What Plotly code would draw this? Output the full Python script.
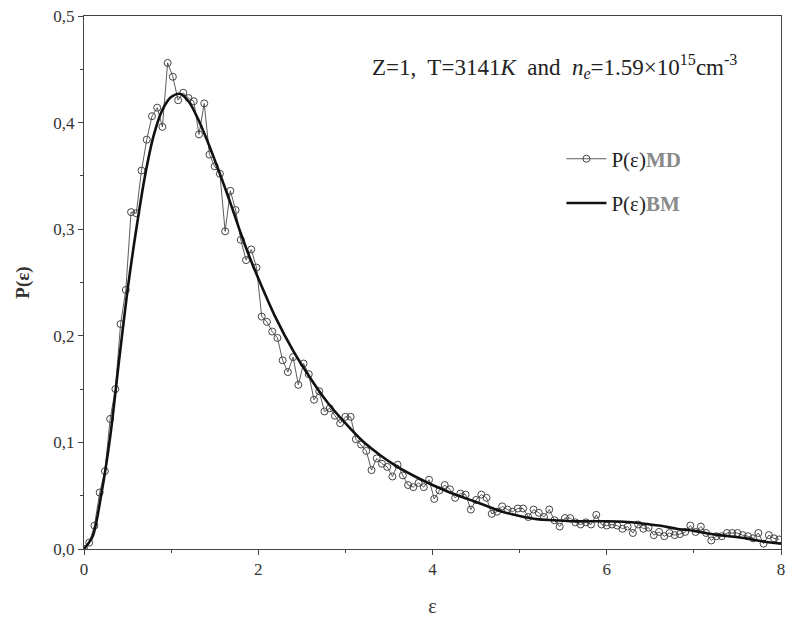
import plotly.graph_objects as go

# MD simulation points (epsilon, P)
eps_md = [0.00, 0.06, 0.12, 0.18, 0.24, 0.30, 0.36, 0.42, 0.48, 0.54,
          0.60, 0.66, 0.72, 0.78, 0.84, 0.90, 0.96, 1.02, 1.08, 1.14,
          1.20, 1.26, 1.32, 1.38, 1.44, 1.50, 1.56, 1.62, 1.68, 1.74,
          1.80, 1.86, 1.92, 1.98, 2.04, 2.10, 2.16, 2.22, 2.28, 2.34,
          2.40, 2.46, 2.52, 2.58, 2.64, 2.70, 2.76, 2.82, 2.88, 2.94,
          3.00, 3.06, 3.12, 3.18, 3.24, 3.30, 3.36, 3.42, 3.48, 3.54,
          3.60, 3.66, 3.72, 3.78, 3.84, 3.90, 3.96, 4.02, 4.08, 4.14,
          4.20, 4.26, 4.32, 4.38, 4.44, 4.50, 4.56, 4.62, 4.68, 4.74,
          4.80, 4.86, 4.92, 4.98, 5.04, 5.10, 5.16, 5.22, 5.28, 5.34,
          5.40, 5.46, 5.52, 5.58, 5.64, 5.70, 5.76, 5.82, 5.88, 5.94,
          6.00, 6.06, 6.12, 6.18, 6.24, 6.30, 6.36, 6.42, 6.48, 6.54,
          6.60, 6.66, 6.72, 6.78, 6.84, 6.90, 6.96, 7.02, 7.08, 7.14,
          7.20, 7.26, 7.32, 7.38, 7.44, 7.50, 7.56, 7.62, 7.68, 7.74,
          7.80, 7.86, 7.92, 7.98]
p_md = [0.000, 0.006, 0.022, 0.053, 0.073, 0.122, 0.150, 0.211, 0.243, 0.316,
        0.315, 0.355, 0.384, 0.406, 0.414, 0.396, 0.456, 0.443, 0.421, 0.428,
        0.423, 0.420, 0.389, 0.418, 0.370, 0.359, 0.352, 0.298, 0.336, 0.318,
        0.290, 0.271, 0.281, 0.264, 0.218, 0.213, 0.204, 0.198, 0.177, 0.166,
        0.180, 0.154, 0.174, 0.164, 0.140, 0.148, 0.129, 0.132, 0.125, 0.118,
        0.124, 0.124, 0.103, 0.098, 0.092, 0.074, 0.085, 0.080, 0.077, 0.068,
        0.079, 0.069, 0.060, 0.058, 0.062, 0.058, 0.065, 0.047, 0.055, 0.060,
        0.056, 0.048, 0.052, 0.051, 0.037, 0.046, 0.051, 0.048, 0.033, 0.035,
        0.040, 0.037, 0.035, 0.038, 0.038, 0.030, 0.037, 0.034, 0.030, 0.037,
        0.027, 0.021, 0.029, 0.029, 0.025, 0.023, 0.025, 0.023, 0.032, 0.023,
        0.022, 0.023, 0.022, 0.019, 0.021, 0.015, 0.023, 0.019, 0.020, 0.013,
        0.016, 0.012, 0.015, 0.013, 0.014, 0.016, 0.022, 0.016, 0.021, 0.015,
        0.008, 0.012, 0.012, 0.015, 0.015, 0.015, 0.013, 0.012, 0.010, 0.015,
        0.005, 0.013, 0.010, 0.009]

# BM model curve
eps_bm = [0.0, 0.1, 0.2, 0.3, 0.4, 0.5, 0.6, 0.7, 0.8, 0.9,
          1.0, 1.1, 1.2, 1.3, 1.4, 1.5, 1.6, 1.7, 1.8, 1.9,
          2.0, 2.2, 2.4, 2.6, 2.8, 3.0, 3.2, 3.4, 3.6, 3.8,
          4.0, 4.2, 4.4, 4.6, 4.8, 5.0, 5.2, 5.4, 5.6, 5.8,
          6.0, 6.2, 6.4, 6.6, 6.8, 7.0, 7.2, 7.4, 7.6, 7.8, 8.0]
p_bm = [0.000, 0.012, 0.052, 0.105, 0.175, 0.243, 0.300, 0.350, 0.388, 0.412,
        0.424, 0.427, 0.420, 0.405, 0.386, 0.365, 0.343, 0.320, 0.296, 0.274,
        0.254, 0.217, 0.186, 0.160, 0.137, 0.118, 0.101, 0.088, 0.077, 0.068,
        0.060, 0.053, 0.047, 0.041, 0.035, 0.031, 0.028, 0.027, 0.026, 0.026,
        0.026, 0.0255, 0.024, 0.022, 0.019, 0.017, 0.014, 0.012, 0.010, 0.007, 0.005]

x_ticks = [0, 2, 4, 6, 8]
x_tick_labels = ["0", "2", "4", "6", "8"]
y_ticks = [0.0, 0.1, 0.2, 0.3, 0.4, 0.5]
y_tick_labels = ["0,0", "0,1", "0,2", "0,3", "0,4", "0,5"]

SERIF = "Liberation Serif"
AX = "#444444"

fig = go.Figure()
fig.add_trace(go.Scatter(
    x=eps_md, y=p_md, mode="lines+markers",
    name="P(ε)<b><span style='color:#8a8a8a'>MD</span></b>",
    legendgroup="md",
    line=dict(color="#333333", width=0.8),
    marker=dict(symbol="circle-open", size=7, color="#444444", line=dict(width=1)),
))
fig.add_trace(go.Scatter(
    x=eps_bm, y=p_bm, mode="lines",
    name="P(ε)<b><span style='color:#8a8a8a'>BM</span></b>",
    legendgroup="bm",
    line=dict(color="#111111", width=2.6, shape="spline", smoothing=0.8),
))

fig.add_annotation(
    xref="paper", yref="paper", x=0.675, y=0.905, xanchor="center", yanchor="middle",
    text="Z=1,  T=3141<i>K</i>  and  <i>n</i><sub><i>e</i></sub>=1.59×10<sup>15</sup>cm<sup>-3</sup>",
    showarrow=False, font=dict(family=SERIF, size=23, color="#222222"),
)

axis_common = dict(
    showline=True, linecolor=AX, linewidth=1, mirror=True,
    ticks="outside", ticklen=5, tickwidth=1, tickcolor=AX,
    showgrid=False, zeroline=False, ticklabeloverflow="allow", automargin=False,
    tickfont=dict(family=SERIF, size=17, color="#333333"),
)

fig.update_xaxes(
    range=[0, 8], tickvals=x_ticks, ticktext=x_tick_labels,
    minor=dict(ticks="outside", ticklen=3, tickcolor=AX, dtick=1, tick0=0),
    title=dict(text="ε", font=dict(family=SERIF, size=20, color="#333333"), standoff=20),
    **axis_common,
)
fig.update_yaxes(
    range=[0, 0.5], tickvals=y_ticks, ticktext=y_tick_labels,
    minor=dict(ticks="outside", ticklen=3, tickcolor=AX, dtick=0.05, tick0=0),
    title=dict(text="<b>P(ε)</b>", font=dict(family=SERIF, size=19, color="#333333"), standoff=18),
    **axis_common,
)

fig.update_layout(
    width=785, height=622,
    margin=dict(l=84, r=4, t=16, b=73),
    paper_bgcolor="white", plot_bgcolor="white",
    showlegend=True,
    legend=dict(
        x=0.685, y=0.77, xanchor="left", yanchor="top",
        bgcolor="rgba(0,0,0,0)", borderwidth=0,
        font=dict(family=SERIF, size=21, color="#222222"),
        traceorder="grouped", tracegroupgap=14, itemwidth=40,
    ),
)

fig.write_html("out.html")
